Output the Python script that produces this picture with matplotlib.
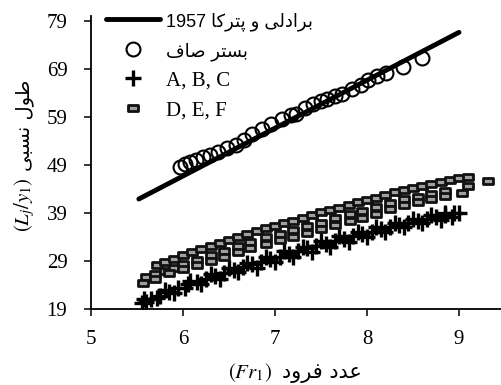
import matplotlib
matplotlib.use('Agg')
import matplotlib.pyplot as plt
from matplotlib.path import Path as MPath

plt.rcParams['mathtext.fontset'] = 'stix'
plt.rcParams['font.family'] = ['Liberation Serif', 'DejaVu Sans']

# Persian strings written as presentation forms in visual (left-to-right) order
lbl_bradley = "1957 \uFE8E\uFB90\uFEAE\uFE98\uFB58 \uFEED \uFBFD\uFEDF\uFEA9\uFE8D\uFEAE\uFE91"
lbl_smooth = "\uFED1\uFE8E\uFEBB \uFEAE\uFE98\uFEB4\uFE91"
lbl_abc = "A, B, C"
lbl_def = "D, E, F"
ylabel_fa = "\uFBFD\uFE92\uFEB4\uFEE7 \uFEDD\uFEEE\uFEC3"
xlabel_fa = "\uFEA9\uFEED\uFEAE\uFED3 \uFEA9\uFEAA\uFECB"

# Bradley & Peterka (1957)
bp_x = [5.52, 9.0]
bp_y = [41.9, 76.6]

# smooth bed
sm_x = [5.97, 6.02, 6.08, 6.14, 6.22, 6.29, 6.38, 6.48, 6.58, 6.66, 6.75, 6.86, 6.96, 7.08, 7.17,
        7.23, 7.33, 7.41, 7.50, 7.56, 7.65, 7.73, 7.84, 7.93, 8.01, 8.11, 8.21, 8.39, 8.60]
sm_y = [48.6, 49.1, 49.6, 50.1, 50.6, 51.0, 51.6, 52.5, 53.2, 54.2, 55.5, 56.4, 57.6, 58.6, 59.4,
        59.6, 60.9, 61.6, 62.3, 62.8, 63.3, 63.8, 64.8, 65.6, 66.7, 67.6, 68.1, 69.4, 71.3]

# rough beds A, B, C
a_x = [5.55, 5.65, 5.75, 5.85, 5.95, 6.05, 6.15, 6.25, 6.35, 6.45, 6.55, 6.65, 6.75, 6.85, 6.95, 7.05,
       7.15, 7.25, 7.35, 7.45, 7.55, 7.65, 7.75, 7.85, 7.95, 8.05, 8.15, 8.25, 8.35, 8.45, 8.55, 8.65,
       8.75, 8.85, 8.95, 9.0]
a_y = [20.3, 21.0, 21.8, 22.5, 23.3, 24.2, 24.7, 25.3, 25.9, 26.5, 27.1, 27.7, 28.3, 28.8, 29.4, 29.9,
       30.5, 31.0, 31.6, 32.1, 32.6, 33.1, 33.6, 34.1, 34.6, 35.1, 35.6, 36.0, 36.5, 36.9, 37.3, 37.7,
       38.1, 38.5, 38.9, 39.0]
b_x = [5.6, 5.72, 5.9, 6.02, 6.2, 6.4, 6.6, 6.8, 7.0, 7.2, 7.4, 7.6, 7.8, 8.0, 8.2, 8.4, 8.6, 8.8, 8.92]
b_y = [20.4, 21.2, 22.4, 23.4, 24.2, 25.3, 26.6, 27.6, 28.7, 29.8, 30.9, 31.9, 33.0, 34.0, 35.1, 36.0,
       36.9, 37.6, 38.2]
c_x = [5.58, 5.8, 6.08, 6.3, 6.5, 6.7, 6.9, 7.1, 7.3, 7.5, 7.7, 7.9, 8.1, 8.3, 8.5, 8.7, 8.85]
c_y = [21.0, 22.9, 24.9, 26.2, 27.5, 28.6, 29.8, 31.0, 32.0, 33.1, 34.1, 35.1, 36.0, 36.9, 37.7, 38.5,
       39.0]

# rough beds D, E, F
d_x = [5.72, 5.8, 5.9, 6.0, 6.1, 6.2, 6.3, 6.4, 6.5, 6.6, 6.7, 6.8, 6.9, 7.0, 7.1, 7.2, 7.3, 7.4,
       7.5, 7.6, 7.7, 7.8, 7.9, 8.0, 8.1, 8.2, 8.3, 8.4, 8.5, 8.6, 8.7, 8.8, 8.9, 9.0, 9.1]
d_y = [28.2, 28.8, 29.5, 30.2, 30.8, 31.5, 32.1, 32.8, 33.4, 34.0, 34.6, 35.2, 35.8, 36.3, 36.9, 37.4,
       38.0, 38.5, 39.1, 39.6, 40.1, 40.6, 41.2, 41.7, 42.2, 42.7, 43.3, 43.8, 44.2, 44.6, 45.0, 45.5,
       45.9, 46.2, 46.5]
e_x = [5.6, 5.7, 5.8, 5.9, 6.0, 6.15, 6.3, 6.45, 6.6, 6.73, 6.9, 7.05, 7.2, 7.35, 7.5, 7.65, 7.82,
       7.95, 8.1, 8.25, 8.4, 8.55, 8.7, 8.85, 9.1]
e_y = [25.6, 26.3, 27.0, 27.6, 28.3, 29.3, 30.2, 31.1, 32.1, 33.0, 33.9, 34.7, 35.4, 36.3, 37.0, 37.9,
       38.7, 39.5, 40.2, 41.0, 41.8, 42.3, 43.0, 43.5, 44.6]
f_x = [5.57, 5.7, 5.85, 6.0, 6.15, 6.3, 6.45, 6.6, 6.73, 6.9, 7.05, 7.2, 7.35, 7.5, 7.65, 7.82, 7.95,
       8.1, 8.25, 8.4, 8.55, 8.7, 8.85, 9.03, 9.32]
f_y = [24.5, 25.3, 26.4, 27.3, 28.1, 29.0, 29.9, 30.8, 31.7, 32.5, 33.3, 34.0, 34.9, 35.6, 36.5, 37.4,
       38.0, 38.8, 39.8, 40.6, 41.3, 42.0, 42.6, 43.2, 45.7]

rect = MPath([(-1, -0.5), (1, -0.5), (1, 0.5), (-1, 0.5), (-1, -0.5)],
             [MPath.MOVETO, MPath.LINETO, MPath.LINETO, MPath.LINETO, MPath.CLOSEPOLY])

fig = plt.figure(figsize=(5.02, 3.85), dpi=100)
ax = fig.add_axes([91 / 502, 76 / 385, 1 - 91 / 502, 293 / 385])

ax.plot(bp_x, bp_y, color='black', lw=3.5, solid_capstyle='round', label=lbl_bradley)
ax.plot(sm_x, sm_y, 'o', ms=10, mfc='none', mec='black', mew=1.5, label=lbl_smooth)

plus_kw = dict(ls='none', marker='+', ms=12, mew=2.4, color='black')
ax.plot(a_x, a_y, label=lbl_abc, **plus_kw)
ax.plot(b_x, b_y, **plus_kw)
ax.plot(c_x, c_y, **plus_kw)

rect_kw = dict(ls='none', marker=rect, ms=7.5, mfc='#a0a0a0', mec='#111111', mew=2.0)
ax.plot(d_x, d_y, label=lbl_def, **rect_kw)
ax.plot(e_x, e_y, **rect_kw)
ax.plot(f_x, f_y, **rect_kw)

ax.set_xlim(5, 5 + 411 / 92)
ax.set_ylim(19, 80)
ax.set_xticks([5, 6, 7, 8, 9])
ax.set_yticks([19, 29, 39, 49, 59, 69, 79])
ax.spines['top'].set_visible(False)
ax.spines['right'].set_visible(False)
for s in ('left', 'bottom'):
    ax.spines[s].set_linewidth(1.3)
ax.tick_params(axis='both', direction='out', length=5, width=1.1, labelsize=15)
ax.tick_params(axis='y', pad=12)
ax.tick_params(axis='x', pad=10)

leg = ax.legend(loc='upper left', bbox_to_anchor=(106 / 502, 1 - 12 / 385),
                bbox_transform=fig.transFigure, frameon=False, fontsize=15,
                handlelength=2.6, handletextpad=0.3, labelspacing=0.5,
                borderpad=0, borderaxespad=0)
texts = leg.get_texts()
texts[0].set_family(['Liberation Sans', 'DejaVu Sans'])
texts[0].set_fontsize(13)
texts[1].set_family(['DejaVu Sans'])
texts[1].set_fontsize(13)

# axis labels (math part + Persian part)
fig.text(272 / 502, 12 / 385, r'$(Fr_1)$', ha='right', va='center', fontsize=15)
fig.text(282 / 502, 12 / 385, xlabel_fa, ha='left', va='center', fontsize=15,
         family=['DejaVu Sans'])
fig.text(25 / 502, 1 - 177 / 385, r'$(\mathbf{\mathit{L_j/y_1}})$', rotation=90,
         ha='center', va='top', fontsize=15)
fig.text(25 / 502, 1 - 171 / 385, ylabel_fa, rotation=90, ha='center', va='bottom',
         fontsize=14, family=['DejaVu Sans'])

fig.savefig('out.png', dpi=100)
